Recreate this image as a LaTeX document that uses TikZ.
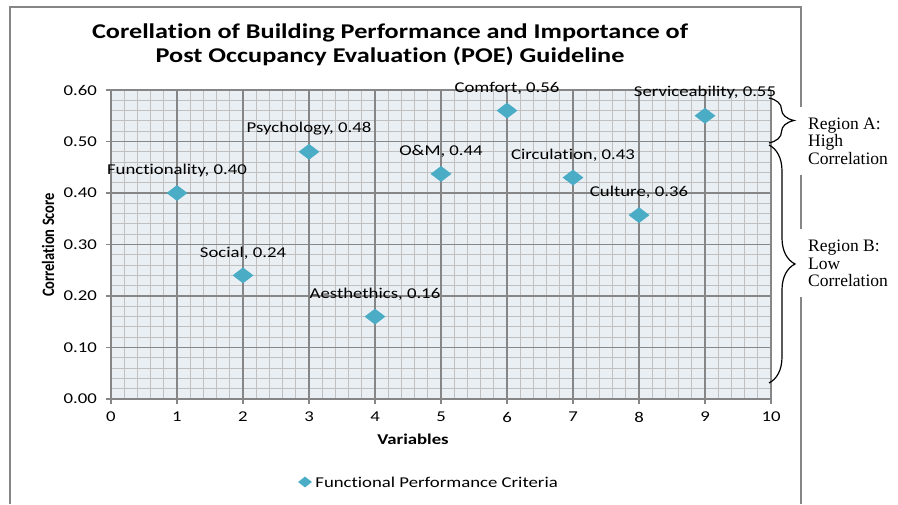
\documentclass[tikz,border=0pt]{standalone}
\usepackage{fontspec}
\newfontfamily\chartfont[FakeStretch=1.25, Ligatures=NoCommon]{Carlito}
\newfontfamily\ylabfont[Ligatures=NoCommon]{Carlito}
\newfontfamily\notefont{Liberation Serif}
\usepackage{xcolor}
\usepackage{tikz}
\usetikzlibrary{positioning}
\usetikzlibrary{shapes.geometric}
\usetikzlibrary{decorations.pathreplacing}
\definecolor{plotbg}{RGB}{233,239,243}
\definecolor{minorgrid}{RGB}{192,192,192}
\definecolor{majorgrid}{RGB}{134,134,134}
\definecolor{marker}{RGB}{75,172,198}
\tikzstyle{point} = [diamond, fill=marker,
	inner sep=0pt,
	minimum width=21pt,
	minimum height=16pt]
\tikzstyle{plabel} = [font=\chartfont\fontsize{15}{18}\selectfont, inner sep=0pt]
\tikzstyle{ticklabel} = [font=\chartfont\fontsize{15}{18}\selectfont, inner sep=0pt]
\tikzstyle{axistitle} = [font=\chartfont\bfseries\fontsize{15}{18}\selectfont, inner sep=0pt]
\tikzstyle{note} = [font=\notefont\fontsize{17.5}{17.5}\selectfont,
	align=left, fill=white,
	inner xsep=9pt,
	minimum height=68pt]
\tikzstyle{region} = [decorate, decoration={brace, amplitude=26pt}, line width=1.2pt]
\newcommand{\drawpoint}[4]{\node[point] (#1) at (#2,#3) {};
	\node[plabel, above=8pt of #1] (#1-label) {#4}}

\begin{document}
\begin{tikzpicture}[x=1pt, y=1pt]
	\useasboundingbox (0,0) rectangle (898,504);
	% chart frame
	\draw[majorgrid, line width=1.5pt] (801,0) -- (801,497) -- (10,497) -- (10,0);
	
	\node[font=\chartfont\bfseries\fontsize{21}{24}\selectfont, align=center] (title) at (390,459)
		{Corellation of Building Performance and Importance of\\Post Occupancy Evaluation (POE) Guideline};
	
	\begin{scope}[shift={(111,105)}, x=66pt, y=515pt]
		\fill[plotbg] (0,0) rectangle (10,0.6);
		\foreach \i in {0,...,50}
			\draw[minorgrid, line width=1pt] (\i/5,0) -- (\i/5,0.6);
		\foreach \j in {0,...,30}
			\draw[minorgrid, line width=1pt] (0,\j/50) -- (10,\j/50);
		\foreach \i in {0,...,10}
			\draw[majorgrid, line width=1.1pt] (\i,0) -- (\i,0.6);
		\foreach \j in {0,...,6}
			\draw[majorgrid, line width=1.1pt] (0,\j/10) -- (10,\j/10);
		
		% ticks and tick labels
		\foreach \i in {0,...,10} {
			\draw[majorgrid, line width=1.1pt] (\i,0) -- ++(0,-5pt);
			\node[ticklabel] (x\i) at (\i,-0.035) {\i};
		}
		\foreach \j/\t in {0/0.00, 1/0.10, 2/0.20, 3/0.30, 4/0.40, 5/0.50, 6/0.60} {
			\draw[majorgrid, line width=1.1pt] (0,\j/10) -- ++(-5pt,0);
			\node[ticklabel, anchor=east] (y\j) at (-0.21,\j/10) {\t};
		}
		
		\drawpoint{func}{1}{0.40}{Functionality, 0.40};
		\drawpoint{soc}{2}{0.24}{Social, 0.24};
		\drawpoint{psy}{3}{0.48}{Psychology, 0.48};
		\drawpoint{aes}{4}{0.16}{Aesthethics, 0.16};
		\drawpoint{om}{5}{0.437}{O\&M, 0.44};
		\drawpoint{comf}{6}{0.56}{Comfort, 0.56};
		\drawpoint{circ}{7}{0.43}{Circulation, 0.43};
		\drawpoint{cult}{8}{0.357}{Culture, 0.36};
		\drawpoint{serv}{9}{0.55}{Serviceability, 0.55};
	\end{scope}
	
	\node[axistitle] (xtitle) at (413,65) {Variables};
	\node[font=\ylabfont\bfseries\fontsize{14.5}{16}\selectfont, rotate=90, inner sep=0pt] (ytitle) at (48,259)
		{\scalebox{1}[1.2]{Correlation Score}};
	
	% legend
	\node[point, minimum width=14pt, minimum height=11pt] (legmark) at (305,22) {};
	\node[ticklabel, right=3pt of legmark] (legtext) {Functional Performance Criteria};
	
	% regions
	\coordinate (aTop) at (769,406);
	\coordinate (aBot) at (769,361);
	\coordinate (bTop) at (769,359);
	\coordinate (bBot) at (769,121);
	\draw[region, decoration={amplitude=25pt}] (aTop) -- (aBot);
	\draw[region] (bTop) -- (bBot);
	\node[note, anchor=west] (regA) at (799,363) {Region A:\\High\\Correlation};
	\node[note, anchor=west] (regB) at (799,240.5) {Region B:\\Low\\Correlation};
\end{tikzpicture}
\end{document}
